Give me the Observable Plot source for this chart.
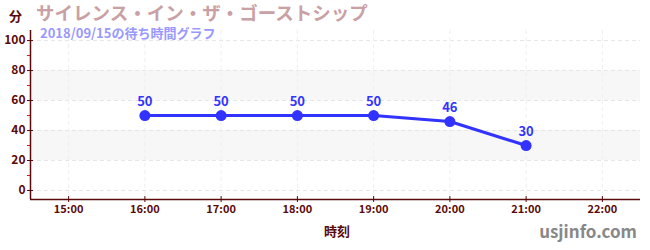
<!DOCTYPE html>
<html>
<head>
<meta charset="utf-8">
<script src="https://cdn.jsdelivr.net/npm/d3@7"></script>
<script src="https://cdn.jsdelivr.net/npm/@observablehq/plot@0.6"></script>
<style>
  html, body { margin: 0; padding: 0; background: #fff; }
  #wrap { position: relative; width: 650px; height: 250px; font-family: "Noto Sans CJK JP", "Noto Sans", sans-serif; }
  #wrap svg { position: absolute; left: 0; top: 0; }
  .ov { position: absolute; white-space: nowrap; font-weight: bold; line-height: 1; }
</style>
</head>
<body>
<div id="wrap"></div>
<script>
const titleText = "サイレンス・イン・ザ・ゴーストシップ";
const subtitleText = "2018/09/15の待ち時間グラフ";
const yUnit = "分";
const xLabel = "時刻";
const credit = "usjinfo.com";

const times = ["16:00", "17:00", "18:00", "19:00", "20:00", "21:00"];
const waits = [50, 50, 50, 50, 46, 30];
const xTickLabels = ["15:00", "16:00", "17:00", "18:00", "19:00", "20:00", "21:00", "22:00"];
const yTicks = [0, 20, 40, 60, 80, 100];
const yMinorTicks = [10, 30, 50, 70, 90];
const bands = [[20, 40], [60, 80]];

const toHour = s => +s.split(":")[0];
const data = times.map((t, i) => ({x: toHour(t), y: waits[i]}));
const xTicks = xTickLabels.map(toHour);
const fmt = h => String(h).padStart(2, "0") + ":00";

const axisColor = "#5a0a0a";
const xDomain = [14.5, 22.5];
const yDomain = [-6, 106.7];

const chart = Plot.plot({
  width: 650,
  height: 250,
  marginTop: 30,
  marginBottom: 51,
  marginLeft: 30,
  marginRight: 10,
  style: {fontFamily: "'Noto Sans CJK JP', 'Noto Sans', sans-serif", background: "transparent"},
  x: {domain: xDomain, axis: null},
  y: {domain: yDomain, axis: null},
  marks: [
    Plot.rect(bands, {x1: xDomain[0], x2: xDomain[1], y1: d => d[0], y2: d => d[1], fill: "#f7f7f7"}),
    Plot.ruleY(yTicks, {stroke: "#e6e6e6", strokeDasharray: "4,3", strokeWidth: 1}),
    Plot.ruleX(xTicks, {stroke: "#efefef", strokeDasharray: "4,3", strokeWidth: 1}),
    Plot.ruleX([xDomain[0]], {stroke: axisColor, strokeWidth: 1.5}),
    Plot.ruleY([yDomain[0]], {stroke: axisColor, strokeWidth: 1.5}),
    Plot.axisY({ticks: yTicks, tickSize: 3, tickPadding: 2, stroke: axisColor, fill: axisColor, fontSize: 12, fontWeight: "bold", label: null}),
    Plot.axisY({ticks: yTicks, tickSize: 3, dx: 3, text: null, stroke: axisColor, label: null}),
    Plot.axisY({ticks: yMinorTicks, tickSize: 3, text: null, stroke: "#dd1111", label: null}),
    Plot.axisX({ticks: xTicks, tickFormat: fmt, tickSize: 3, tickPadding: 3, stroke: axisColor, fill: axisColor, fontSize: 11, fontWeight: "bold", label: null}),
    Plot.axisX({ticks: xTicks, tickSize: 3, dy: -3, text: null, stroke: axisColor, label: null}),
    Plot.line(data, {x: "x", y: "y", stroke: "#3333ff", strokeWidth: 3}),
    Plot.dot(data, {x: "x", y: "y", r: 5.5, fill: "#3333ff", stroke: "none"}),
    Plot.text(data, {x: "x", y: "y", text: d => String(d.y), dy: -14, fill: "#3333ff", fontSize: 13, fontWeight: "bold"})
  ]
});

const wrap = document.getElementById("wrap");
wrap.appendChild(chart);

function ov(text, css) {
  const d = document.createElement("div");
  d.className = "ov";
  d.textContent = text;
  Object.assign(d.style, css);
  wrap.appendChild(d);
}
ov(yUnit, {left: "9px", top: "9px", fontSize: "13px", color: axisColor});
ov(titleText, {left: "36px", top: "3px", fontSize: "18.5px", color: "#c9a0a3"});
ov(subtitleText, {left: "40px", top: "25.5px", fontSize: "13px", color: "#9999ff"});
ov(xLabel, {left: "324px", top: "224px", fontSize: "13px", color: axisColor});
ov(credit, {right: "13px", top: "222px", fontSize: "17px", color: "#888888"});
</script>
</body>
</html>
